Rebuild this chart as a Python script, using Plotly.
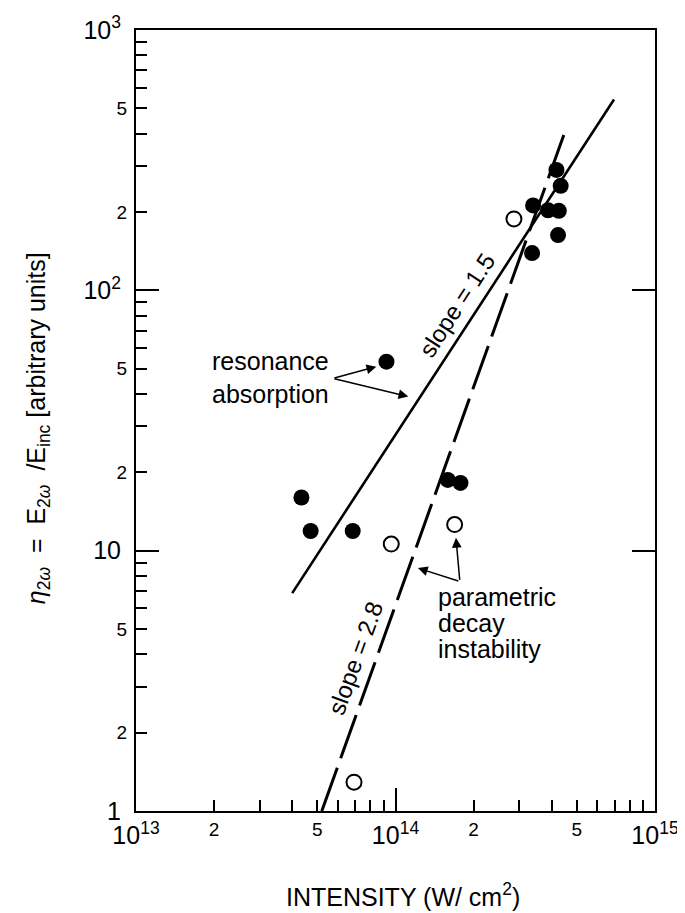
import numpy as np
import plotly.graph_objects as go

# ---- data ----
filled_x = [4.34e13, 4.71e13, 6.84e13, 9.23e13, 1.59e14, 1.78e14,
            3.39e14, 3.87e14, 4.26e14, 4.17e14, 4.33e14, 4.23e14, 3.36e14]
filled_y = [16.0, 11.9, 11.9, 53.2, 18.7, 18.2,
            212, 203, 202, 290, 252, 163, 139]

open_x = [6.92e13, 9.63e13, 1.69e14, 2.86e14]
open_y = [1.29, 10.6, 12.6, 188]

# fitted lines (end points)
res_line_x = [4.0e13, 6.95e14]
res_line_y = [6.87, 541]
pdi_line_x = [5.2e13, 4.46e14]
pdi_line_y = [1.0, 397]

x_major_vals = [1e13, 1e14, 1e15]
x_major_text = ["10<sup>13</sup>", "10<sup>14</sup>", "10<sup>15</sup>"]
x_minor_lab_vals = [2e13, 5e13, 2e14, 5e14]
x_minor_lab_text = ["2", "5", "2", "5"]
y_major_vals = [1, 10, 100, 1000]
y_major_text = ["1", "10", "10<sup>2</sup>", "10<sup>3</sup>"]
y_minor_lab_vals = [2, 5, 20, 50, 200, 500]
y_minor_lab_text = ["2", "5", "2", "5", "2", "5"]

x_minor_vals = [m * 10 ** e for e in (13, 14) for m in range(2, 10)]
y_minor_vals = [m * 10 ** e for e in (0, 1, 2) for m in range(2, 10)]

FONT = "Liberation Sans, Arial, Helvetica, sans-serif"
L = np.log10

fig = go.Figure()

fig.add_trace(go.Scatter(x=res_line_x, y=res_line_y, mode="lines",
                         line=dict(color="black", width=2.6), showlegend=False))
fig.add_trace(go.Scatter(x=pdi_line_x, y=pdi_line_y, mode="lines",
                         line=dict(color="black", width=3, dash="46px,10px"),
                         showlegend=False))
fig.add_trace(go.Scatter(x=filled_x, y=filled_y, mode="markers",
                         marker=dict(symbol="circle", size=16, color="black"),
                         showlegend=False))
fig.add_trace(go.Scatter(x=open_x, y=open_y, mode="markers",
                         marker=dict(symbol="circle", size=15, color="white",
                                     line=dict(color="black", width=2)),
                         showlegend=False))
# invisible traces to activate the overlay axes
fig.add_trace(go.Scatter(x=[None], y=[None], xaxis="x2", yaxis="y", showlegend=False))
fig.add_trace(go.Scatter(x=[None], y=[None], xaxis="x", yaxis="y2", showlegend=False))
fig.add_trace(go.Scatter(x=[None], y=[None], xaxis="x", yaxis="y3", showlegend=False))

fig.update_layout(
    width=685, height=913,
    margin=dict(l=128, r=38, t=22, b=110),
    paper_bgcolor="white", plot_bgcolor="white",
    font=dict(family=FONT, color="black", size=22),
    xaxis=dict(type="log", range=[13, 15], showgrid=False, zeroline=False,
               automargin=False,
               showline=True, linecolor="black", linewidth=2, mirror=True,
               ticks="inside", ticklen=23, tickwidth=2, tickcolor="black",
               tickvals=x_major_vals, ticktext=x_major_text,
               tickfont=dict(size=25), ticklabelstandoff=1,
               minor=dict(tickvals=x_minor_vals, ticks="inside", ticklen=11,
                          tickwidth=2, tickcolor="black", showgrid=False)),
    xaxis2=dict(type="log", range=[13, 15], overlaying="x", side="bottom",
                anchor="y", showgrid=False, zeroline=False, showline=False,
                automargin=False,
                ticks="", tickvals=x_minor_lab_vals, ticktext=x_minor_lab_text,
                tickfont=dict(size=19), ticklabelstandoff=5),
    yaxis=dict(type="log", range=[0, 3], showgrid=False, zeroline=False,
               automargin=False,
               showline=True, linecolor="black", linewidth=2, mirror=True,
               ticks="inside", ticklen=23, tickwidth=2, tickcolor="black",
               tickvals=y_major_vals, ticktext=y_major_text,
               tickfont=dict(size=25), ticklabelstandoff=8,
               minor=dict(tickvals=y_minor_vals, ticks="inside", ticklen=11,
                          tickwidth=2, tickcolor="black", showgrid=False)),
    yaxis2=dict(type="log", range=[0, 3], overlaying="y", side="right",
                anchor="x", showgrid=False, zeroline=False, showline=False,
                automargin=False,
                ticks="inside", ticklen=23, tickwidth=2, tickcolor="black",
                tickvals=[10, 100], showticklabels=False),
    yaxis3=dict(type="log", range=[0, 3], overlaying="y", side="left",
                anchor="x", showgrid=False, zeroline=False, showline=False,
                automargin=False,
                ticks="", tickvals=y_minor_lab_vals, ticktext=y_minor_lab_text,
                tickfont=dict(size=19), ticklabelstandoff=8),
)

ann = []
# axis titles
ann.append(dict(xref="paper", yref="paper", x=0.514, y=-0.1076,
                text="INTENSITY (W/ cm<sup>2</sup>)", showarrow=False,
                font=dict(size=25), xanchor="center", yanchor="middle"))
ann.append(dict(xref="paper", yref="paper", x=-0.189, y=0.49, textangle=-90,
                text="<i>η</i><sub>2<i>ω</i></sub>  =  E<sub>2<i>ω</i></sub>  /E<sub>inc</sub> [arbitrary units]",
                showarrow=False, font=dict(size=25),
                xanchor="center", yanchor="middle"))
# labels
ann.append(dict(x=L(1.93e13), y=L(46.4), text="resonance<br>absorption",
                showarrow=False, xanchor="left", yanchor="middle", align="left",
                font=dict(size=25)))
for txt, yv in (("parametric", 6.63), ("decay", 5.27), ("instability", 4.19)):
    ann.append(dict(x=L(1.43e14), y=L(yv), text=txt, showarrow=False,
                    xanchor="left", yanchor="middle", font=dict(size=25)))
ann.append(dict(x=L(1.72e14), y=L(87.5), text="slope = 1.5", textangle=-57,
                showarrow=False, font=dict(size=24)))
ann.append(dict(x=L(6.98e13), y=L(3.87), text="slope = 2.8", textangle=-70,
                showarrow=False, font=dict(size=24)))

# arrows: (tail, head)
arrows = [
    ((5.74e13, 45.9), (8.43e13, 50.9)),
    ((5.74e13, 45.9), (1.12e14, 39.1)),
    ((1.77e14, 7.62), (1.22e14, 8.57)),
    ((1.77e14, 7.62), (1.71e14, 11.2)),
]
for (tx, ty), (hx, hy) in arrows:
    ann.append(dict(x=L(hx), y=L(hy), ax=L(tx), ay=L(ty), axref="x", ayref="y",
                    xref="x", yref="y", text="", showarrow=True, arrowhead=2,
                    arrowsize=1.3, arrowwidth=1.5, arrowcolor="black", standoff=0))
fig.update_layout(annotations=ann)

fig.write_html("out.html")
